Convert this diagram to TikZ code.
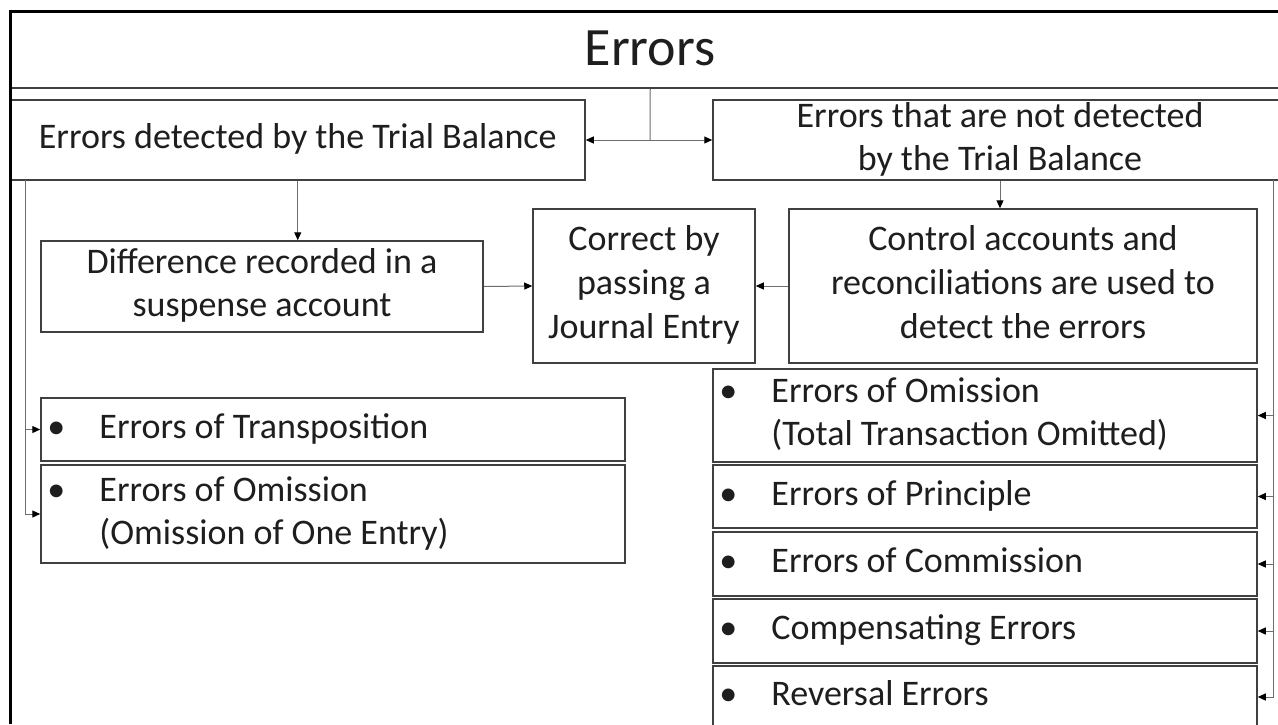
\documentclass[tikz,border=0pt]{standalone}
\usepackage{fontspec}
\setmainfont{Carlito}
\usetikzlibrary{arrows.meta,calc}
\definecolor{boxgray}{RGB}{64,64,64}
\definecolor{conngray}{RGB}{110,110,110}
\definecolor{txt}{RGB}{30,30,30}
\newcommand\tstrut{\rule{0pt}{26pt}}
\newcommand\bstrut{\rule[-9pt]{0pt}{9pt}}
\begin{document}
\begin{tikzpicture}[x=1pt,y=-1pt,
  box/.style={draw=boxgray, line width=1.5pt, rectangle, inner sep=0pt, text=txt,
    font=\fontsize{36}{44}\selectfont, align=center},
  conn/.style={draw=conngray, line width=1pt, -{Triangle[length=8pt,width=7pt,color=black]}},
  plain/.style={draw=conngray, line width=1pt},
  item/.style={anchor=west, inner sep=0pt, text=txt, font=\fontsize{36}{43.2}\selectfont},
]
\useasboundingbox (0,0) rectangle (1278,724);
\clip (0,0) rectangle (1278,724);
\fill[white] (0,0) rectangle (1278,724);

% title
\node[box, minimum width=1279.5pt, minimum height=77pt] (title) at (650.25,49.5) {};
\node[inner sep=0pt, text=txt, font=\fontsize{54}{64}\selectfont] (titletext) at (650,48) {Errors};

% second level
\node[box, minimum width=574.5pt, minimum height=80pt] (lbox) at (297.75,140) {\tstrut\bstrut Errors detected by the Trial Balance};
\node[box, minimum width=574pt, minimum height=80pt, font=\fontsize{36}{43}\selectfont] (rbox) at (1000,140) {\tstrut Errors that are not detected\\by the Trial Balance\bstrut};

% third level
\node[box, minimum width=442pt, minimum height=91pt, font=\fontsize{36}{43}\selectfont] (diff) at (262,286.5) {\tstrut Difference recorded in a\\suspense account\bstrut};
\node[box, minimum width=222pt, minimum height=154pt] (corr) at (644,286) {\tstrut Correct by\\passing a\\Journal Entry\bstrut};
\node[box, minimum width=468pt, minimum height=154pt] (ctrl) at (1023,286) {\tstrut Control accounts and\\reconciliations are used to\\detect the errors\bstrut};

% left list
\node[box, minimum width=584pt, minimum height=63pt] (L1) at (333,429.5) {};
\node[box, minimum width=584pt, minimum height=98pt] (L2) at (333,514) {};
\node[item] (L1t) at ([xshift=7pt]L1.west) {\begin{tabular}{@{}p{52pt}@{}l@{}}\textbullet & Errors of Transposition\end{tabular}};
\node[item] (L2t) at ([xshift=7pt]L2.west) {\begin{tabular}{@{}p{52pt}@{}l@{}}\textbullet & Errors of Omission\\ & (Omission of One Entry)\end{tabular}};

% right list
\node[box, minimum width=544pt, minimum height=93pt] (R1) at (985,415.5) {};
\node[box, minimum width=544pt, minimum height=63pt] (R2) at (985,496.5) {};
\node[box, minimum width=544pt, minimum height=64pt] (R3) at (985,564) {};
\node[box, minimum width=544pt, minimum height=64pt] (R4) at (985,631) {};
\node[box, minimum width=544pt, minimum height=62pt] (R5) at (985,697) {};
\node[item] (R1t) at ([xshift=7pt]R1.west) {\begin{tabular}{@{}p{52pt}@{}l@{}}\textbullet & Errors of Omission\\ & (Total Transaction Omitted)\end{tabular}};
\node[item] (R2t) at ([xshift=7pt]R2.west) {\begin{tabular}{@{}p{52pt}@{}l@{}}\textbullet & Errors of Principle\end{tabular}};
\node[item] (R3t) at ([xshift=7pt]R3.west) {\begin{tabular}{@{}p{52pt}@{}l@{}}\textbullet & Errors of Commission\end{tabular}};
\node[item] (R4t) at ([xshift=7pt]R4.west) {\begin{tabular}{@{}p{52pt}@{}l@{}}\textbullet & Compensating Errors\end{tabular}};
\node[item] (R5t) at ([xshift=7pt]R5.west) {\begin{tabular}{@{}p{52pt}@{}l@{}}\textbullet & Reversal Errors\end{tabular}};

% connectors
\coordinate (split) at (650,140);
\draw[plain] (title.south) -- (split);
\draw[conn] (split) -- (lbox.east);
\draw[conn] (split) -- (rbox.west);
\draw[conn] (lbox.south) -- (lbox.south |- diff.north);
\draw[conn] (rbox.south) -- (rbox.south |- ctrl.north);
\draw[conn] (diff.east) -- (corr.west);
\draw[conn] (ctrl.west) -- (corr.east);

\coordinate (lbus) at (25,180);
\draw[conn] (lbus) |- (L1.west);
\draw[conn] (lbus) |- (L2.west);

\coordinate (rbus) at (1273,180);
\draw[conn] (rbus) |- (R1.east);
\draw[conn] (rbus) |- (R2.east);
\draw[conn] (rbus) |- (R3.east);
\draw[conn] (rbus) |- (R4.east);
\draw[conn] (rbus) |- (R5.east);

% outer frame
\draw[line width=3pt, black] (10.5,724) -- (10.5,11) -- (1278,11);
\end{tikzpicture}
\end{document}
